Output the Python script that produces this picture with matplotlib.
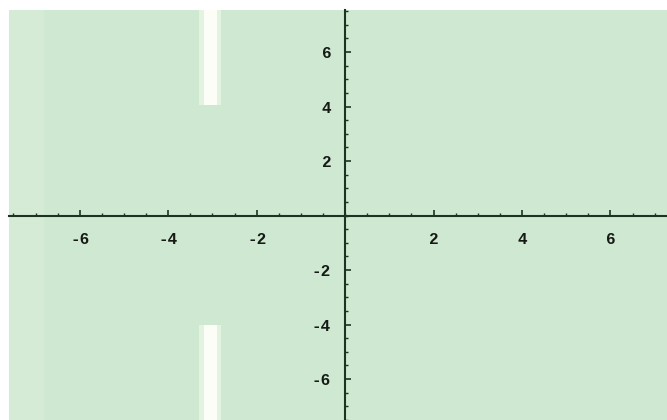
import numpy as np
import matplotlib.pyplot as plt
from matplotlib.ticker import MultipleLocator, FixedLocator

# plot range
x_range = [-7.6, 7.28]
y_range = [-7.5, 7.54]

# white strips of the density plot (x extent, y extents)
strip_x = [-3.2, -2.9]
strip_y_upper = [4.05, 7.54]
strip_y_lower = [-7.5, -4.0]

# faint lighter band on the left edge
band_x = [-7.6, -6.8]

major_ticks = [-6, -4, -2, 2, 4, 6]

bg_color = "#cfe8d1"
band_color = "#d5ebd5"
strip_edge = "#e4f2e0"
strip_color = "#fbfdf6"
axis_color = "#1c3324"

fig = plt.figure(figsize=(6.67, 4.2), dpi=100)
ax = fig.add_axes([9 / 667, 0, 658 / 667, 410 / 420])
ax.set_facecolor(bg_color)

# left band
ax.fill_between(band_x, y_range[0], y_range[1], color=band_color, lw=0, zorder=0)

# strips: soft edge then bright core
for ylo, yhi in [strip_y_upper, strip_y_lower]:
    ax.fill_between([strip_x[0] - 0.1, strip_x[1] + 0.1], ylo, yhi,
                    color=strip_edge, lw=0, zorder=1)
    ax.fill_between(strip_x, ylo, yhi, color=strip_color, lw=0, zorder=2)

ax.set_xlim(x_range)
ax.set_ylim(y_range)

for side in ["top", "right"]:
    ax.spines[side].set_visible(False)
for side in ["left", "bottom"]:
    ax.spines[side].set_position("zero")
    ax.spines[side].set_color(axis_color)
    ax.spines[side].set_linewidth(1.5)
    ax.spines[side].set_zorder(5)

ax.xaxis.set_major_locator(FixedLocator(major_ticks))
ax.yaxis.set_major_locator(FixedLocator(major_ticks))
ax.xaxis.set_minor_locator(MultipleLocator(0.5))
ax.yaxis.set_minor_locator(MultipleLocator(0.5))
ax.set_xticklabels([str(t) for t in major_ticks])
ax.set_yticklabels([str(t) for t in major_ticks])

ax.tick_params(which="major", direction="in", length=4.5, width=1.2, color=axis_color,
               labelsize=11.5, labelcolor="#151a15")
ax.tick_params(which="minor", direction="in", length=2.5, width=1.0, color=axis_color)
ax.tick_params(axis="x", which="major", pad=12)
ax.tick_params(axis="y", which="major", pad=10)
for lab in ax.get_xticklabels() + ax.get_yticklabels():
    lab.set_family("Liberation Mono")
    lab.set_weight("bold")

fig.savefig("out.png", dpi=100)
